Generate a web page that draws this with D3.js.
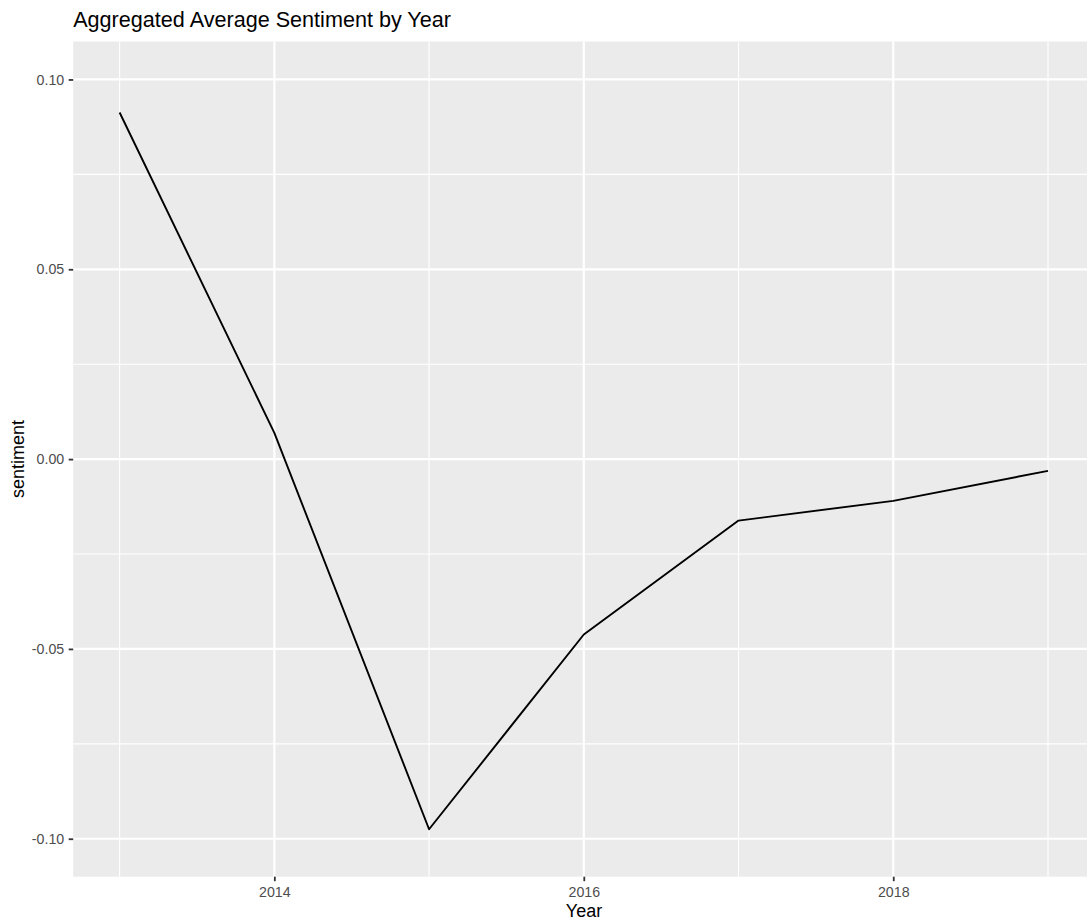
<!DOCTYPE html>
<html>
<head>
<meta charset="utf-8">
<script src="https://cdn.jsdelivr.net/npm/d3@7"></script>
<style>
html, body { margin: 0; padding: 0; background: #fff; }
svg { display: block; }
text { font-family: "Liberation Sans", Arial, Helvetica, sans-serif; }
</style>
</head>
<body>
<svg id="chart" width="1087" height="920"></svg>
<script>
const years = [2013, 2014, 2015, 2016, 2017, 2018, 2019];
const sentiment = [0.0913, 0.0069, -0.0975, -0.0462, -0.0162, -0.0110, -0.0031];
const xMajor = [2014, 2016, 2018];
const xMinor = [2013, 2015, 2017, 2019];
const yMajor = [-0.10, -0.05, 0.00, 0.05, 0.10];
const yMinor = [-0.075, -0.025, 0.025, 0.075];
const yLabels = ["-0.10", "-0.05", "0.00", "0.05", "0.10"];
const titleText = "Aggregated Average Sentiment by Year";
const xTitle = "Year";
const yTitle = "sentiment";

const svg = d3.select("#chart");
const panel = { left: 73.2, top: 41.5, right: 1094.4, bottom: 876.7 };

const x = d3.scaleLinear().domain([2012.7, 2019.3]).range([panel.left, panel.right]);
const y = d3.scaleLinear().domain([-0.11, 0.11]).range([panel.bottom, panel.top]);

svg.append("rect")
  .attr("x", panel.left).attr("y", panel.top)
  .attr("width", panel.right - panel.left).attr("height", panel.bottom - panel.top)
  .attr("fill", "#EBEBEB");

const grid = svg.append("g");
grid.selectAll(".yminor").data(yMinor).enter().append("line")
  .attr("x1", panel.left).attr("x2", panel.right)
  .attr("y1", d => y(d)).attr("y2", d => y(d))
  .attr("stroke", "#fff").attr("stroke-width", 1.1);
grid.selectAll(".xminor").data(xMinor).enter().append("line")
  .attr("y1", panel.top).attr("y2", panel.bottom)
  .attr("x1", d => x(d)).attr("x2", d => x(d))
  .attr("stroke", "#fff").attr("stroke-width", 1.1);
grid.selectAll(".ymajor").data(yMajor).enter().append("line")
  .attr("x1", panel.left).attr("x2", panel.right)
  .attr("y1", d => y(d)).attr("y2", d => y(d))
  .attr("stroke", "#fff").attr("stroke-width", 2.2);
grid.selectAll(".xmajor").data(xMajor).enter().append("line")
  .attr("y1", panel.top).attr("y2", panel.bottom)
  .attr("x1", d => x(d)).attr("x2", d => x(d))
  .attr("stroke", "#fff").attr("stroke-width", 2.2);

const data = years.map((yr, i) => ({ yr, v: sentiment[i] }));
svg.append("path")
  .datum(data)
  .attr("fill", "none")
  .attr("stroke", "#000")
  .attr("stroke-width", 1.9)
  .attr("stroke-linejoin", "round")
  .attr("d", d3.line().x(d => x(d.yr)).y(d => y(d.v)));

// Axes
const yAxis = d3.axisLeft(y).tickValues(yMajor)
  .tickFormat((d, i) => yLabels[i]).tickSize(4.5).tickPadding(4.5);
const gy = svg.append("g").attr("transform", `translate(${panel.left},0)`).call(yAxis);
gy.select(".domain").remove();
gy.selectAll(".tick line").attr("stroke", "#333333").attr("stroke-width", 1.8);
gy.selectAll(".tick text").attr("fill", "#4D4D4D").style("font-size", "14.2px")
  .style("font-family", '"Liberation Sans", Arial, sans-serif');

const xAxis = d3.axisBottom(x).tickValues(xMajor).tickFormat(d3.format("d"))
  .tickSize(4.5).tickPadding(5.4);
const gx = svg.append("g").attr("transform", `translate(0,${panel.bottom})`).call(xAxis);
gx.select(".domain").remove();
gx.selectAll(".tick line").attr("stroke", "#333333").attr("stroke-width", 1.8);
gx.selectAll(".tick text").attr("fill", "#4D4D4D").style("font-size", "14.2px")
  .style("font-family", '"Liberation Sans", Arial, sans-serif');

svg.append("text")
  .attr("x", panel.left).attr("y", 27.3)
  .attr("fill", "#000").style("font-size", "21.6px")
  .text(titleText);

svg.append("text")
  .attr("x", 584).attr("y", 916.5)
  .attr("text-anchor", "middle")
  .attr("fill", "#000").style("font-size", "18px")
  .text(xTitle);

svg.append("text")
  .attr("transform", `translate(23.5,${(panel.top + panel.bottom) / 2}) rotate(-90)`)
  .attr("text-anchor", "middle")
  .attr("fill", "#000").style("font-size", "18px")
  .text(yTitle);
</script>
</body>
</html>
